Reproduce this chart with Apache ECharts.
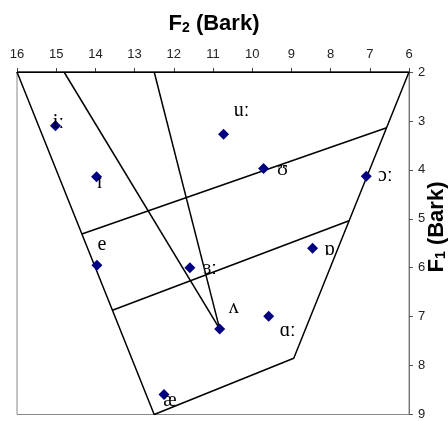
<!DOCTYPE html>
<html>
<head>
<meta charset="utf-8">
<script src="https://cdn.jsdelivr.net/npm/echarts@6/dist/echarts.min.js"></script>
<style>
  html, body { margin: 0; padding: 0; background: #fff; }
  #chart { width: 448px; height: 421px; }
</style>
</head>
<body>
<div id="chart"></div>
<script>
// Vowel measurements (F2 and F1 in Bark)
const vowels = ['iː', 'ɪ', 'uː', 'ʊ', 'ɔː', 'e', 'ɜː', 'ʌ', 'ɑː', 'ɒ', 'æ'];
const f2Values = [15.02, 13.97, 10.73, 9.71, 7.09, 13.96, 11.59, 10.83, 9.58, 8.46, 12.25];
const f1Values = [3.10, 4.14, 3.27, 3.97, 4.13, 5.95, 6.00, 7.25, 6.99, 5.60, 8.59];

// Vowel-space frame: [F2, F1] vertices
const outline = [[16, 2], [6, 2], [8.94, 7.85], [12.5, 9], [16, 2]];
const upperBand = [[14.345, 5.31], [6.57, 3.14]];
const lowerBand = [[13.565, 6.87], [7.53, 5.04]];
const centralFront = [[14.8, 2], [10.83, 7.25]];
const centralBack = [[12.5, 2], [10.83, 7.25]];

// Axis ranges
const f2Range = [6, 16];
const f1Range = [2, 9];

// Label placement relative to each marker (px)
const labelOffsets = [[3, -3], [3, 6], [18, -23], [19, 1], [19, 0], [5, -21], [20, 1], [14, -21], [19, 15], [17, 2], [6, 6]];

const chart = echarts.init(document.getElementById('chart'));

function frameSeries(pts) {
  return {
    type: 'line',
    data: pts,
    symbol: 'none',
    silent: true,
    animation: false,
    lineStyle: { color: '#000', width: 1.5 },
    z: 2
  };
}

const points = vowels.map((v, i) => ({
  value: [f2Values[i], f1Values[i]],
  name: v,
  label: { offset: labelOffsets[i] }
}));

chart.setOption({
  animation: false,
  backgroundColor: '#fff',
  grid: {
    left: 17, right: 39, top: 72, bottom: 1,
    show: true, borderColor: '#888', borderWidth: 1, backgroundColor: 'transparent'
  },
  xAxis: {
    type: 'value',
    position: 'top',
    inverse: true,
    min: f2Range[0], max: f2Range[1], interval: 1,
    axisLine: { show: true, lineStyle: { color: '#000', width: 1 } },
    axisTick: { show: true, length: 4, lineStyle: { color: '#444' } },
    axisLabel: { margin: 11, color: '#222', fontSize: 13, fontFamily: 'Liberation Sans, Arial, sans-serif' },
    splitLine: { show: false }
  },
  yAxis: {
    type: 'value',
    position: 'right',
    inverse: true,
    min: f1Range[0], max: f1Range[1], interval: 1,
    axisLine: { show: true, lineStyle: { color: '#777', width: 1 } },
    axisTick: { show: true, length: 4, lineStyle: { color: '#555' } },
    axisLabel: { margin: 9, color: '#222', fontSize: 13, fontFamily: 'Liberation Sans, Arial, sans-serif' },
    splitLine: { show: false }
  },
  graphic: [
    {
      type: 'text', x: 214, y: 24,
      style: {
        text: '{a|F}{b|2}{a| (Bark)}',
        align: 'center', verticalAlign: 'middle',
        rich: {
          a: { fontSize: 22, fontWeight: 'bold', fontFamily: 'Liberation Sans, Arial, sans-serif', fill: '#000' },
          b: { fontSize: 14, fontWeight: 'bold', fontFamily: 'Liberation Sans, Arial, sans-serif', fill: '#000', verticalAlign: 'bottom', padding: [8, 0, 0, 0] }
        }
      }
    },
    {
      type: 'text', x: 437, y: 227, rotation: Math.PI / 2,
      style: {
        text: '{a|F}{b|1}{a| (Bark)}',
        align: 'center', verticalAlign: 'middle',
        rich: {
          a: { fontSize: 22, fontWeight: 'bold', fontFamily: 'Liberation Sans, Arial, sans-serif', fill: '#000' },
          b: { fontSize: 14, fontWeight: 'bold', fontFamily: 'Liberation Sans, Arial, sans-serif', fill: '#000', verticalAlign: 'bottom', padding: [8, 0, 0, 0] }
        }
      }
    }
  ],
  series: [
    frameSeries(outline),
    frameSeries(upperBand),
    frameSeries(lowerBand),
    frameSeries(centralFront),
    frameSeries(centralBack),
    {
      type: 'scatter',
      data: points,
      symbol: 'diamond',
      symbolSize: 11,
      itemStyle: { color: '#000080', opacity: 1 },
      z: 5,
      label: {
        show: true,
        position: 'inside',
        formatter: p => p.name,
        color: '#000',
        opacity: 1,
        textBorderWidth: 0,
        fontSize: 20,
        fontFamily: 'Liberation Serif, DejaVu Serif, Times New Roman, serif'
      }
    }
  ]
});
</script>
</body>
</html>
